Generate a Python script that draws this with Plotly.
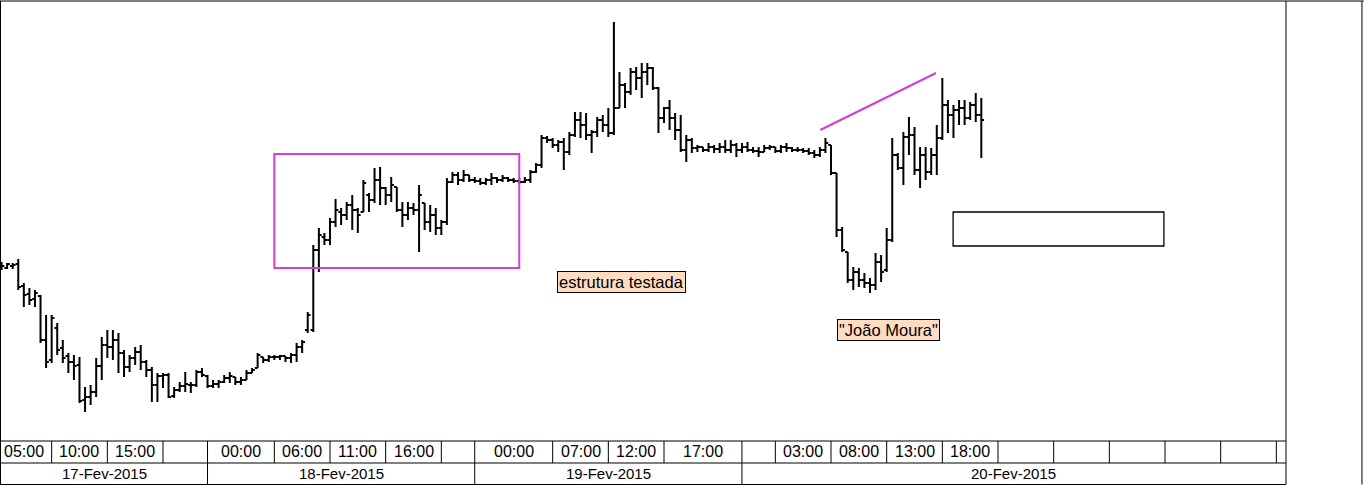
import plotly.graph_objects as go
import pandas as pd

# ---------------- data (30-minute bars, 17-Feb-2015 05:30 onward) ----------------
bar_start = "2015-02-17 05:30"
n_bars = 177
times = pd.date_range(bar_start, periods=n_bars, freq="30min")

opens = [176, 173, 175, 177, 155, 147, 142, 145, 101, 81,
         113, 93, 85, 79, 76, 41, 44, 49, 75, 96,
         94, 101, 88, 74, 83, 89, 79, 71, 56, 65,
         66, 45, 51, 55, 56, 56, 69, 65, 55, 57,
         59, 63, 64, 59, 61, 68, 73, 84, 81, 84,
         84, 85, 83, 86, 94, 111, 111, 191, 204, 201,
         219, 229, 226, 236, 231, 229, 246, 241, 261, 253,
         246, 254, 231, 226, 233, 231, 238, 219, 226, 213,
         219, 259, 266, 261, 266, 261, 260, 258, 261, 263,
         261, 263, 261, 260, 259, 261, 269, 276, 303, 301,
         296, 299, 289, 306, 321, 316, 306, 309, 321, 316,
         308, 333, 356, 349, 369, 363, 369, 373, 353, 323,
         333, 323, 311, 291, 301, 293, 294, 291, 294, 292,
         294, 291, 296, 291, 294, 291, 290, 289, 293, 294,
         290, 294, 293, 291, 291, 290, 288, 286, 291, 296,
         268, 211, 189, 161, 169, 161, 158, 156, 179, 171,
         201, 286, 273, 304, 306, 271, 286, 269, 286, 303,
         336, 326, 331, 333, 323, 336, 326]
highs = [179, 178, 178, 182, 158, 153, 151, 146, 126, 126,
         118, 101, 88, 86, 84, 54, 56, 83, 104, 111,
         111, 108, 91, 86, 94, 96, 81, 74, 68, 68,
         68, 54, 59, 69, 59, 71, 73, 66, 61, 61,
         66, 69, 64, 64, 71, 73, 88, 84, 86, 86,
         86, 85, 88, 98, 101, 129, 196, 213, 208, 223,
         242, 233, 239, 246, 233, 261, 248, 273, 274, 254,
         264, 254, 239, 239, 238, 256, 238, 236, 233, 221,
         263, 269, 269, 271, 266, 264, 263, 263, 268, 264,
         266, 264, 263, 263, 264, 271, 278, 306, 305, 303,
         301, 303, 309, 329, 329, 328, 311, 324, 326, 333,
         419, 369, 358, 373, 374, 378, 378, 374, 354, 334,
         341, 328, 326, 306, 303, 296, 294, 298, 296, 298,
         301, 301, 298, 298, 299, 294, 294, 296, 296, 294,
         296, 298, 294, 294, 293, 293, 291, 294, 303, 296,
         268, 214, 189, 174, 173, 168, 163, 188, 186, 213,
         303, 288, 309, 324, 314, 294, 294, 293, 316, 363,
         341, 336, 341, 341, 339, 348, 343]
lows = [171, 172, 172, 151, 134, 136, 134, 98, 73, 78,
        86, 78, 68, 61, 38, 29, 36, 44, 61, 83,
        81, 68, 64, 69, 76, 71, 64, 39, 39, 53,
        43, 43, 49, 49, 48, 54, 64, 53, 53, 53,
        58, 58, 56, 56, 61, 68, 73, 78, 79, 81,
        81, 79, 78, 79, 88, 108, 109, 169, 196, 196,
        214, 216, 221, 211, 208, 229, 229, 238, 236, 236,
        239, 229, 214, 221, 226, 189, 211, 209, 206, 206,
        216, 258, 256, 259, 259, 258, 256, 256, 256, 258,
        259, 259, 258, 257, 258, 258, 268, 273, 298, 293,
        289, 271, 286, 304, 303, 301, 288, 304, 309, 304,
        306, 333, 333, 346, 351, 343, 356, 351, 308, 318,
        311, 301, 289, 279, 288, 289, 289, 289, 288, 288,
        288, 288, 284, 288, 289, 288, 284, 289, 291, 288,
        288, 289, 289, 289, 288, 286, 283, 284, 288, 266,
        204, 189, 158, 151, 154, 153, 148, 151, 159, 169,
        199, 271, 256, 286, 266, 253, 261, 266, 266, 301,
        308, 303, 316, 316, 321, 319, 283]
closes = [175, 177, 176, 154, 146, 141, 148, 101, 79, 123,
          91, 83, 79, 75, 40, 44, 49, 75, 96, 94,
          101, 88, 74, 83, 89, 79, 71, 56, 65, 66,
          44, 51, 55, 57, 56, 69, 66, 55, 57, 59,
          63, 65, 59, 61, 68, 71, 86, 81, 84, 84,
          85, 83, 86, 94, 99, 126, 191, 206, 201, 219,
          231, 226, 236, 231, 226, 258, 241, 261, 253, 246,
          256, 231, 226, 233, 231, 246, 219, 226, 213, 219,
          259, 266, 261, 266, 261, 260, 258, 261, 263, 261,
          263, 261, 260, 259, 261, 269, 276, 303, 301, 296,
          299, 289, 306, 321, 316, 306, 309, 321, 316, 308,
          333, 356, 349, 369, 363, 369, 373, 353, 323, 333,
          323, 311, 291, 301, 293, 294, 291, 294, 292, 294,
          291, 296, 291, 294, 291, 290, 289, 293, 294, 290,
          294, 293, 291, 291, 290, 288, 286, 291, 298, 268,
          211, 191, 161, 169, 161, 158, 156, 179, 169, 201,
          286, 273, 304, 306, 271, 286, 269, 286, 303, 336,
          326, 331, 333, 323, 336, 326, 321]

# time-axis table
hour_ticks = ["2015-02-17 05:00", "2015-02-17 10:00", "2015-02-17 15:00", "2015-02-17 20:00",
              "2015-02-18 00:00", "2015-02-18 06:00", "2015-02-18 11:00", "2015-02-18 16:00",
              "2015-02-18 21:00", "2015-02-19 00:00", "2015-02-19 07:00", "2015-02-19 12:00",
              "2015-02-19 17:00", "2015-02-20 00:00", "2015-02-20 03:00", "2015-02-20 08:00",
              "2015-02-20 13:00", "2015-02-20 18:00", "2015-02-20 23:00", "2015-02-21 04:00",
              "2015-02-21 09:00", "2015-02-21 14:00", "2015-02-21 19:00", "2015-02-22 00:00"]
hour_labels = ["05:00", "10:00", "15:00", "", "00:00", "06:00", "11:00", "16:00", "",
               "00:00", "07:00", "12:00", "17:00", "", "03:00", "08:00", "13:00", "18:00",
               "", "", "", "", "", ""]
day_ticks = ["2015-02-18 00:00", "2015-02-19 00:00", "2015-02-20 00:00"]
day_labels = ["17-Fev-2015", "18-Fev-2015", "19-Fev-2015", "20-Fev-2015"]

x_start = "2015-02-17 05:27"
x_end = "2015-02-22 00:52"

# ---------------- figure ----------------
fig = go.Figure()
fig.add_trace(go.Ohlc(
    x=times, open=opens, high=highs, low=lows, close=closes,
    increasing=dict(line=dict(color="black", width=2)),
    decreasing=dict(line=dict(color="black", width=2)),
    tickwidth=0.5, hoverinfo="skip", showlegend=False,
))

shapes = []
ann = []
LINE = dict(color="black", width=1)
PX = 1.0 / 440.0  # one pixel in paper-y units
y_row1_top = 0.0
y_row1_bot = -22 * PX
y_row2_bot = -43.5 * PX

# horizontal table lines
for yy in (y_row1_top, y_row1_bot, y_row2_bot):
    shapes.append(dict(type="line", xref="paper", yref="paper", x0=-0.001, x1=1.0,
                       y0=yy, y1=yy, line=LINE))
# top frame across the full width
shapes.append(dict(type="line", xref="paper", yref="paper", x0=-0.001, x1=1.0605,
                   y0=1.0, y1=1.0, line=LINE))
# left border, right plot border, right panel border
shapes.append(dict(type="line", xref="paper", yref="paper", x0=-0.0004, x1=-0.0004,
                   y0=y_row2_bot, y1=1.0, line=LINE))
shapes.append(dict(type="line", xref="paper", yref="paper", x0=1.0, x1=1.0,
                   y0=y_row2_bot, y1=1.0, line=LINE))
shapes.append(dict(type="line", xref="paper", yref="paper", x0=1.0591, x1=1.0591,
                   y0=y_row2_bot, y1=1.0, line=LINE))

# hour row cells
for i, t in enumerate(hour_ticks):
    if i > 0:
        shapes.append(dict(type="line", xref="x", yref="paper", x0=t, x1=t,
                           y0=y_row1_top, y1=y_row1_bot, line=LINE))
    if i + 1 < len(hour_ticks) and hour_labels[i]:
        mid = pd.Timestamp(t) + (pd.Timestamp(hour_ticks[i + 1]) - pd.Timestamp(t)) / 2
        ann.append(dict(x=mid, y=(y_row1_top + y_row1_bot) / 2, xref="x", yref="paper",
                        text=hour_labels[i], showarrow=False,
                        font=dict(family="Liberation Sans, Arial", size=16, color="black"),
                        xanchor="center", yanchor="middle"))

# day row cells
day_edges = [x_start] + day_ticks + [x_end]
for i, lab in enumerate(day_labels):
    if 0 < i:
        shapes.append(dict(type="line", xref="x", yref="paper", x0=day_edges[i], x1=day_edges[i],
                           y0=y_row1_bot, y1=y_row2_bot, line=LINE))
    a, b = pd.Timestamp(day_edges[i]), pd.Timestamp(day_edges[i + 1])
    ann.append(dict(x=a + (b - a) / 2, y=(y_row1_bot + y_row2_bot) / 2, xref="x", yref="paper",
                    text=lab, showarrow=False,
                    font=dict(family="Liberation Sans, Arial", size=15, color="black"),
                    xanchor="center", yanchor="middle"))

MAG = "#D63CD6"
# magenta box
shapes.append(dict(type="rect", xref="x", yref="y", x0="2015-02-18 06:00", x1="2015-02-19 04:00",
                   y0=173, y1=287, line=dict(color=MAG, width=2)))
# magenta trend line
shapes.append(dict(type="line", xref="x", yref="y", x0="2015-02-20 07:02", x1="2015-02-20 17:26",
                   y0=311, y1=368, line=dict(color=MAG, width=2)))
# empty white box
shapes.append(dict(type="rect", xref="x", yref="y", x0="2015-02-20 18:58", x1="2015-02-21 13:54",
                   y0=195, y1=229, line=dict(color="black", width=1.3), fillcolor="white"))

LBL = dict(family="Liberation Sans, Arial", size=16.5, color="black")
ann.append(dict(x="2015-02-19 13:10", y=159.5, xref="x", yref="y", text="estrutura testada",
                showarrow=False, font=LBL, bgcolor="#FDDCC2", bordercolor="black",
                borderwidth=1, borderpad=1))
ann.append(dict(x="2015-02-20 13:11", y=111.5, xref="x", yref="y", text="\"João Moura\"",
                showarrow=False, font=LBL, bgcolor="#FDDCC2", bordercolor="black",
                borderwidth=1, borderpad=1))

fig.update_layout(
    width=1364, height=485,
    margin=dict(l=1, r=78, t=1, b=44, pad=0),
    paper_bgcolor="white", plot_bgcolor="white",
    shapes=shapes, annotations=ann,
    showlegend=False,
    xaxis=dict(range=[x_start, x_end], type="date", visible=False,
               rangeslider=dict(visible=False), fixedrange=True),
    yaxis=dict(range=[0, 440], visible=False, fixedrange=True),
    hovermode=False,
)

fig.write_html(
    "out.html",
    config={"displayModeBar": False},
    post_script="document.body.style.margin='0';document.body.style.overflow='hidden';",
)
